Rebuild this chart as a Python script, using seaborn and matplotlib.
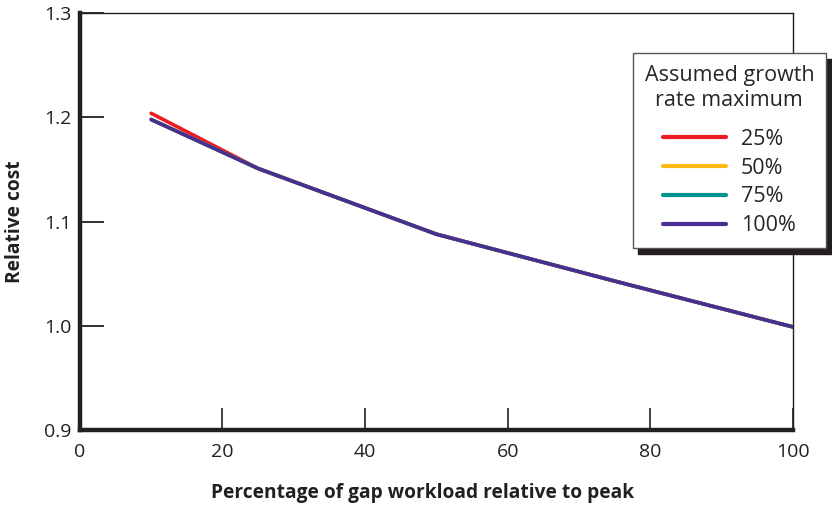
import pandas as pd
import matplotlib.pyplot as plt
import seaborn as sns

# valores
workload_pct = [10, 25, 50, 75, 100]
cost_25 = [1.204, 1.151, 1.088, 1.043, 0.999]
cost_50 = [1.198, 1.151, 1.088, 1.043, 0.999]
cost_75 = [1.198, 1.151, 1.088, 1.043, 0.999]
cost_100 = [1.198, 1.151, 1.088, 1.043, 0.999]
growth_labels = ['25%', '50%', '75%', '100%']
palette = ['#ED1C24', '#FDB913', '#00948F', '#4B2E91']

series = [cost_25, cost_50, cost_75, cost_100]
df = pd.concat([
    pd.DataFrame({'workload': workload_pct, 'cost': vals, 'growth': lab})
    for lab, vals in zip(growth_labels, series)
])

sns.set_style('ticks')
plt.rcParams['font.family'] = ['Open Sans', 'DejaVu Sans']

fig = plt.figure(figsize=(8.32, 5.09), dpi=100)
ax = fig.add_axes([0.096, 0.155, 0.857, 0.819])

sns.lineplot(data=df, x='workload', y='cost', hue='growth',
             palette=palette, hue_order=growth_labels, linewidth=2.6,
             ax=ax, legend=True, sort=False)

ax.set_xlim(0, 100)
ax.set_ylim(0.9, 1.3)
ax.set_xticks([0, 20, 40, 60, 80, 100])
ax.set_yticks([0.9, 1.0, 1.1, 1.2, 1.3])
ax.set_yticklabels(['0.9', '1.0', '1.1', '1.2', '1.3'])
ax.tick_params(axis='x', which='major', bottom=True, direction='in',
               length=16, width=1.2, color='#231f20', labelsize=14, pad=9,
               labelcolor='#231f20')
ax.tick_params(axis='y', which='major', left=True, direction='in',
               length=17, width=1.3, color='#231f20', labelsize=14, pad=6,
               labelcolor='#231f20')

for side in ['top', 'right']:
    ax.spines[side].set_visible(True)
    ax.spines[side].set_linewidth(1)
    ax.spines[side].set_color('#231f20')
for side in ['left', 'bottom']:
    ax.spines[side].set_linewidth(3.2)
    ax.spines[side].set_color('#231f20')

ax.set_xlabel('Percentage of gap workload relative to peak',
              fontsize=13.8, fontweight='bold', color='#231f20')
ax.xaxis.set_label_coords(0.48, -0.128)
ax.set_ylabel('Relative cost', fontsize=13.8, fontweight='bold',
              labelpad=14, color='#231f20')

handles, labels = ax.get_legend_handles_labels()
leg = ax.legend(handles, labels, title='Assumed growth\nrate maximum',
                loc='upper right', bbox_to_anchor=(826 / 832, 1 - 53 / 509),
                bbox_transform=fig.transFigure, borderaxespad=0,
                frameon=True, fancybox=False,
                shadow={'color': '#231f20', 'alpha': 1, 'ox': 4, 'oy': -4},
                fontsize=15.5, title_fontsize=15.5, handlelength=2.9,
                handletextpad=0.7, labelspacing=0.36, borderpad=0.55,
                framealpha=1)
leg.get_frame().set_edgecolor('#555555')
leg.get_frame().set_linewidth(1)
leg.get_title().set_multialignment('center')
leg.get_title().set_linespacing(1.25)
leg._legend_box.sep = 13
for line in leg.get_lines():
    line.set_linewidth(3)

fig.savefig('out.png', dpi=100)
